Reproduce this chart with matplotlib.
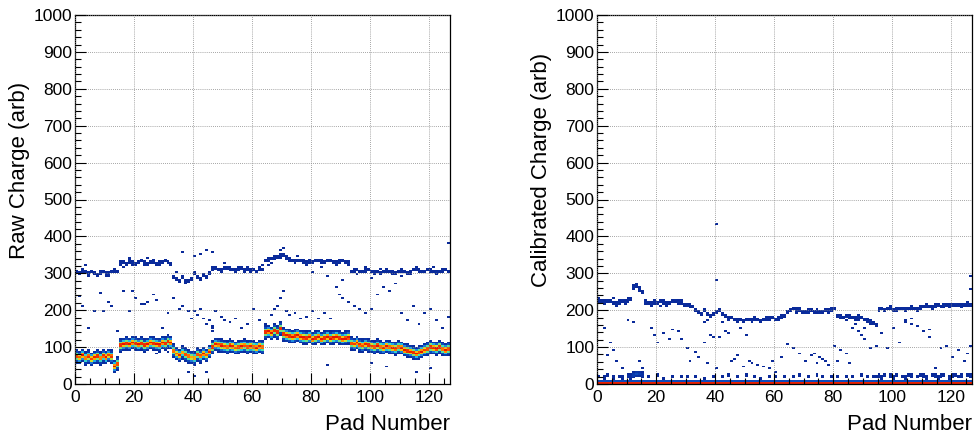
import numpy as np
import matplotlib
matplotlib.use("Agg")
import matplotlib.pyplot as plt
from matplotlib.colors import LinearSegmentedColormap, Normalize
from matplotlib.ticker import MultipleLocator

plt.rcParams['font.family'] = ['Liberation Sans', 'DejaVu Sans']

# ---------------- data ----------------
n_pads = 127
y_edges = np.arange(0, 1005, 5)

# Raw charge: main band centre per pad
raw_main_center = ([75, 72, 78, 70, 74, 68, 72, 75, 70, 76, 72, 78, 74] +
                   [48, 55] +
                   [105, 108, 110, 108, 112, 110, 107, 110, 105, 108, 112, 110, 108, 106, 112, 110, 115, 112] +
                   [90, 82, 78, 85, 80, 75, 72, 70, 80, 76, 82, 78, 88, 100] +
                   [108, 106, 104, 102, 100, 104, 102, 98, 100, 102, 104, 100, 102, 100, 98, 102, 100] +
                   [140, 142, 138, 145, 140, 150] +
                   [135, 132, 130, 128, 130, 132, 128, 126, 125, 128, 122] +
                   [125, 128, 122, 125, 128, 124, 126, 128, 125, 122, 124, 126] +
                   [110, 108, 112, 106, 104, 108, 105, 102, 100, 104, 100, 98, 102, 100, 98, 96, 100, 98] +
                   [92, 90, 88, 85, 82, 85, 88, 92, 95] +
                   [100, 98, 96, 100, 95, 92, 95])
raw_main_weight = ([38, 34, 40, 34, 38, 36, 38, 40, 34, 38, 40, 36, 38] + [40, 38] +
                   [40] * 18 + [36, 34, 38, 32, 38, 36, 30, 32, 38, 36, 40, 34, 38, 40] +
                   [38, 36, 40, 36, 36, 40, 38, 34, 38, 40, 36, 38, 38, 36, 40, 38, 36] +
                   [40] * 29 + [38, 36, 40, 38, 36, 38, 40, 36, 38, 40, 36, 38, 40, 36, 38, 38, 36, 40] +
                   [40, 40, 38, 40, 40, 38, 40, 36, 38] + [40, 38, 40, 40, 36, 40, 38])

# Raw charge: upper band centre per pad
raw_upper_center = ([305, 300, 308, 304, 298, 306, 300, 295, 302, 306, 300, 298, 304, 308, 305] +
                    [328, 330, 325, 332, 328, 326, 330, 334, 328, 325, 330, 332, 326, 328, 330, 335, 330, 325] +
                    [290, 285, 282, 288, 280, 278, 285, 300, 290, 285, 295, 290, 300] +
                    [312, 315, 310, 308, 314, 316, 312, 310, 308, 312, 315, 310, 312, 308, 310, 306, 312, 310] +
                    [335, 338, 340, 342, 345, 348, 350, 342, 338, 335, 332, 336, 334, 330, 328, 332, 330, 334,
                     336, 332, 330, 334, 336, 330, 328, 332, 334, 330, 328] +
                    [305, 308, 310, 306, 304, 308, 310, 306, 302, 305, 300, 304, 308, 306, 302, 300, 305, 308,
                     304, 300, 306, 310, 312, 308, 304, 306, 310, 308, 305, 302, 306, 308, 310, 305])
raw_upper_weight = [1.8] * 33 + [1.0] * 13 + [1.8] * 81

# Raw charge: scattered isolated entries (pad, charge)
raw_scatter_pad = [1, 2, 4, 6, 8, 9, 11, 12, 14, 16, 18, 19, 20, 22, 23, 24, 26, 27, 29, 31, 33, 35, 36, 38, 39,
                   40, 41, 42, 43, 44, 45, 46, 47, 49, 50, 52, 54, 56, 58, 60, 62, 64, 66, 67, 68, 69, 70, 71,
                   72, 74, 76, 78, 80, 82, 84, 86, 88, 89, 90, 92, 94, 96, 98, 100, 102, 104, 106, 108, 110,
                   112, 114, 116, 118, 120, 122, 124, 126, 36, 40, 42, 44, 46, 69, 70, 126, 110, 100, 90, 85,
                   80, 40, 38, 44, 85, 100, 115, 120, 105, 46, 46, 27, 31, 3, 10, 16, 24, 34, 37, 50, 57, 63,
                   65, 75, 83, 95, 103, 113, 121, 18, 24, 66, 77, 98]
raw_scatter_q = [235, 210, 150, 195, 245, 195, 220, 210, 140, 250, 195, 250, 230, 215, 215, 220, 240, 225, 150,
                 190, 230, 200, 210, 195, 175, 195, 185, 200, 175, 160, 170, 150, 195, 180, 170, 165, 175, 150,
                 160, 200, 170, 160, 185, 200, 210, 230, 250, 195, 185, 190, 175, 180, 195, 175, 190, 175, 260,
                 240, 230, 220, 210, 200, 190, 200, 240, 260, 250, 270, 190, 170, 210, 160, 190, 200, 170, 150,
                 180, 355, 345, 350, 360, 355, 360, 365, 380, 290, 285, 280, 290, 300, 20, 30, 30, 50, 55, 30,
                 40, 45, 140, 155, 80, 85, 320, 290, 315, 340, 300, 270, 325, 300, 322, 320, 345, 318, 295,
                 312, 296, 315, 340, 322, 325, 338, 318]

# Calibrated charge: upper band centre per pad
cal_upper_center = ([228, 225, 222, 226, 224, 220, 218, 222, 226, 224, 228, 230] +
                    [262, 268, 258, 250] +
                    [222, 220, 218, 222, 220, 224, 222, 218, 220, 224, 226, 222, 220, 216, 214, 212, 210] +
                    [200, 195, 190, 198, 192, 185, 188, 195, 200, 192, 186, 180, 178, 176] +
                    [172, 175, 170, 174, 176, 172, 178, 175, 170, 174, 176, 178, 180, 176, 178, 182, 185] +
                    [195, 200, 205, 198, 202, 196, 194, 198, 200, 196, 198, 194, 196, 200, 198, 202, 205] +
                    [185, 182, 180, 184, 182, 180, 178, 182, 180, 176, 172, 168, 165, 160] +
                    [202, 204, 200, 206, 204, 200, 202, 206, 204, 202, 205, 208, 206, 204, 208, 210, 212, 210,
                     208, 212, 214, 210, 212, 215, 212, 214, 216, 214, 212, 216, 218, 215])
cal_upper_weight = [1.8] * 33 + [1.0] * 14 + [1.8] * 80

# Calibrated charge: pedestal band near zero and a patchy band just above
cal_main_center = [2] * n_pads
cal_low_center = ([20, 22, 18, 24, 20, 18, 22, 20, 18, 22, 24, 20] + [25, 28, 28, 25] +
                  [18, 22, 16, 20, 24, 18, 16, 22, 20, 18, 24, 16, 20, 22, 18, 16, 24, 20, 18, 22,
                   16, 20, 24, 18, 22, 16, 20, 18, 24, 22, 16, 20, 18, 22, 24, 16, 20, 18, 22, 16,
                   24, 20, 18, 16, 22, 20, 24, 18, 16, 22, 20, 18, 24, 16, 20, 22, 18, 16, 24, 20,
                   18, 22, 16, 20, 24, 18, 22, 16, 20, 18, 22, 16, 20, 24, 18, 22, 16, 20, 18] +
                  [22, 18, 24, 20, 22, 18, 24, 22, 20, 18, 24, 22, 18, 20, 24, 22, 18, 20, 24, 22,
                   18, 22, 24, 20, 18, 22, 24, 20, 22, 18, 24, 22])
cal_low_weight = ([1.4, 0, 1.4, 1.4, 0, 1.4, 0, 1.4, 1.4, 0, 2, 3] + [6, 7, 6, 4] +
                  [0, 1.2, 0, 0, 1.2, 0, 1.2, 0, 0, 1.2, 0, 0, 1.2, 0, 1.2, 0, 0, 1.2, 0, 0,
                   1.2, 0, 0, 1.2, 0, 0, 1.2, 0, 1.2, 0, 0, 1.2, 0, 0, 1.2, 0, 0, 1.2, 0, 1.2,
                   0, 0, 1.2, 0, 1.2, 0, 0, 1.2, 0, 0, 1.2, 0, 1.2, 0, 0, 1.2, 0, 0, 1.2, 0,
                   1.2, 0, 0, 1.2, 0, 1.2, 0, 0, 1.2, 0, 1.2, 0, 0, 1.2, 0, 1.2, 0, 1.2, 1.2] +
                  [1.4, 1.6, 1.4, 0, 1.6, 1.4, 1.6, 0, 1.4, 1.6, 1.4, 1.6, 0, 1.4, 1.6, 1.4, 1.6, 0, 1.4,
                   1.6, 1.4, 1.6, 1.4, 0, 1.6, 1.4, 1.6, 1.4, 1.6, 0, 1.4, 1.6])

# Calibrated charge: scattered isolated entries (pad, charge)
cal_scatter_pad = [2, 3, 4, 5, 6, 8, 10, 12, 14, 15, 18, 19, 20, 22, 24, 25, 27, 28, 30, 31, 33, 34, 36, 37, 38,
                   39, 40, 41, 42, 43, 44, 45, 46, 47, 48, 49, 50, 51, 52, 54, 56, 58, 59, 60, 62, 64, 66, 68,
                   70, 72, 74, 76, 78, 80, 81, 82, 84, 85, 86, 88, 89, 90, 92, 94, 96, 98, 100, 102, 104, 106,
                   108, 110, 112, 114, 116, 118, 120, 122, 124, 125, 126, 40, 40, 126, 126, 84, 87, 90, 104,
                   106, 112, 36, 37, 73, 75, 77, 5, 9, 21, 28, 44, 52, 57, 67, 71, 79, 88, 99, 108, 117, 123]
cal_scatter_q = [150, 75, 110, 90, 60, 40, 170, 165, 60, 40, 150, 130, 110, 135, 120, 145, 140, 120, 95, 60, 85,
                 70, 110, 55, 130, 128, 40, 125, 165, 140, 135, 60, 65, 75, 150, 45, 130, 60, 55, 50, 45, 40,
                 60, 30, 70, 105, 95, 80, 60, 75, 55, 65, 50, 100, 60, 90, 80, 55, 150, 140, 130, 120, 95, 100,
                 135, 95, 150, 110, 170, 160, 155, 140, 125, 40, 95, 100, 70, 90, 60, 80, 100, 430, 283, 290,
                 255, 170, 160, 150, 165, 175, 145, 165, 170, 80, 70, 60, 232, 215, 212, 226, 170, 168, 180,
                 206, 190, 196, 172, 210, 198, 218, 208]


# ---------------- build histograms ----------------
def build(bands, pads, qs):
    yc = 0.5 * (y_edges[:-1] + y_edges[1:])
    H = np.zeros((n_pads, len(yc)))
    for centers, sigma, weights in bands:
        for i in range(n_pads):
            w = weights[i] if hasattr(weights, '__len__') else weights
            H[i] += np.floor(w * np.exp(-0.5 * ((yc - centers[i]) / sigma) ** 2) + 0.5)
    for p, q in zip(pads, qs):
        j = int(q // 5)
        H[p, j] += 1
    return H


H_raw = build([(raw_main_center, 6.5, raw_main_weight), (raw_main_center, 13.0, 1.5),
               (raw_upper_center, 4.0, raw_upper_weight)], raw_scatter_pad, raw_scatter_q)
H_cal = build([(cal_main_center, 3.0, 40), (cal_low_center, 4.0, cal_low_weight),
               (cal_upper_center, 4.0, cal_upper_weight)], cal_scatter_pad, cal_scatter_q)

cmap = LinearSegmentedColormap.from_list(
    'rootpal', ['#0a2a9a', '#0a3cb0', '#1e78dc', '#1ec8e6', '#50e6a0', '#d2e628',
                '#ffb400', '#ff5a00', '#e61400'])

fig = plt.figure(figsize=(9.74, 4.37), dpi=100)
x_edges = np.arange(0, n_pads + 1)

panels = [
    (H_raw, [75 / 974, 1 - 384 / 437, 375 / 974, 369 / 437], 'Raw Charge (arb)', 20 / 974),
    (H_cal, [597 / 974, 1 - 384 / 437, 375 / 974, 369 / 437], 'Calibrated Charge (arb)', 542 / 974),
]

for H, rect, ylab, ylab_x in panels:
    ax = fig.add_axes(rect)
    Hm = np.ma.masked_less(H, 0.5)
    ax.pcolormesh(x_edges, y_edges, Hm.T, cmap=cmap, norm=Normalize(vmin=1, vmax=40),
                  shading='flat', rasterized=True)
    ax.set_xlim(0, 127)
    ax.set_ylim(0, 1000)
    ax.xaxis.set_major_locator(MultipleLocator(20))
    ax.xaxis.set_minor_locator(MultipleLocator(5))
    ax.yaxis.set_major_locator(MultipleLocator(100))
    ax.yaxis.set_minor_locator(MultipleLocator(20))
    ax.tick_params(which='both', direction='in', top=False, right=False, labelsize=12.5,
                   colors='black', width=0.8)
    ax.tick_params(which='major', length=8)
    ax.tick_params(which='minor', length=4)
    ax.tick_params(axis='x', pad=4)
    ax.tick_params(axis='y', pad=2)
    ax.grid(True, which='major', linestyle=(0, (1, 1.5)), color='#888888', linewidth=0.6)
    ax.set_axisbelow(False)
    for s in ax.spines.values():
        s.set_linewidth(0.9)
    fig.text(ylab_x, rect[1] + rect[3] * 0.58, ylab, rotation=90, ha='center', va='center', fontsize=16)
    fig.text(rect[0] + rect[2], 12 / 437, 'Pad Number', ha='right', va='center', fontsize=16)

fig.savefig('out.png', dpi=100)
